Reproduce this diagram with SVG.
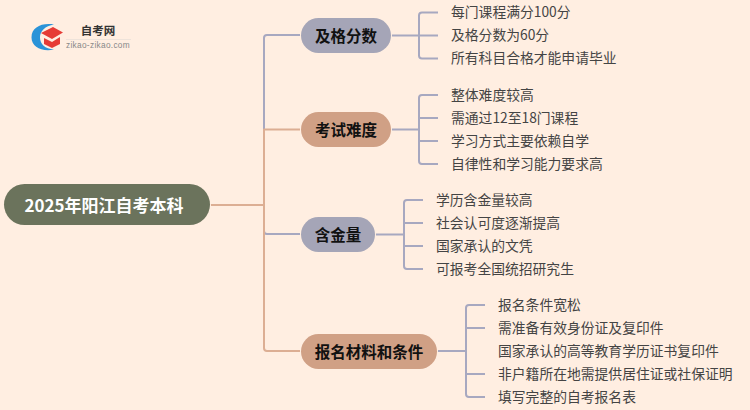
<svg xmlns="http://www.w3.org/2000/svg" width="750" height="410" viewBox="0 0 750 410">
<style>
text{font-family:"Noto Sans CJK SC","Liberation Sans",sans-serif}
.l{font-size:13.8px;fill:#444;dominant-baseline:central}
.n{font-size:15.5px;font-weight:700;fill:#111;text-anchor:middle;dominant-baseline:central}
.c{fill:none;stroke-width:2;stroke-linejoin:round}
.b{stroke:#a7a8c0}.o{stroke:#dcae93}
.bf{fill:#a5a5b7}.of{fill:#d0a085}
</style>
<rect width="750" height="410" fill="#ffeee1"/>
<g id="logo">
<path d="M54 24.500C42 22.500 31.500 27 31.500 37.500C31.500 47 42 52 54 49.500C45 49 40 44 40 37.500C40 31 45 26 54 24.500Z" fill="#2a93d8"/>
<path d="M41 33L53 27L63 32.500L52 39Z" fill="#e63b35"/>
<path d="M44 38L52 42L60 37V44L52 48L44 44Z" fill="#e63b35"/>
<text x="98" y="30" style="font-size:11.500px;font-weight:700;fill:#333;text-anchor:middle;dominant-baseline:central">自考网</text>
<path d="M66 39.500H131" stroke="#eee3da" stroke-width="1" fill="none"/>
<text x="98" y="45" style="font-size:8.300px;fill:#888;text-anchor:middle;dominant-baseline:central;font-family:'Liberation Sans',sans-serif;letter-spacing:.3px">zikao-zikao.com</text>
</g>
<g id="connectors">
<path class="c b" d="M264 129V38Q264 35 267 35H300"/>
<path class="c b" d="M264 205V231Q264 234 267 234H300"/>
<path class="c o" d="M211 205H264"/>
<path class="c o" d="M300 129.500H264V348Q264 351 267 351H300"/>
<path class="c b" d="M392 35.500H419M438 12.500H422Q419 12.500 419 15.500V55.500Q419 58.500 422 58.500H438M419 35.500H438"/>
<path class="c b" d="M392 129.500H419M438 95H422Q419 95 419 98V161Q419 164 422 164H438M419 118H438M419 141H438"/>
<path class="c b" d="M376 234.500H404M423 200H407Q404 200 404 203V266Q404 269 407 269H423M404 223H423M404 246H423"/>
<path class="c b" d="M438 351H466M485 305H469Q466 305 466 308V394Q466 397 469 397H485M466 328H485M466 374H485"/>
</g>
<g id="root"><rect x="4" y="184" width="206" height="41" rx="20.500" fill="#6b735c"/><text x="104" y="204" style="font-size:17px;font-weight:700;fill:#fff;text-anchor:middle;dominant-baseline:central">2025年阳江自考本科</text></g>
<g id="n1"><rect class="bf" x="301" y="18" width="90" height="35" rx="17.500"/><text class="n" x="346" y="34.500">及格分数</text></g>
<g id="n2"><rect class="of" x="301" y="112" width="90" height="35" rx="17.500"/><text class="n" x="346" y="128.500">考试难度</text></g>
<g id="n3"><rect class="bf" x="301" y="217" width="74" height="35" rx="17.500"/><text class="n" x="338" y="233.500">含金量</text></g>
<g id="n4"><rect class="of" x="301" y="334" width="136" height="35" rx="17.500"/><text class="n" x="369" y="350.500">报名材料和条件</text></g>
<g id="leaves1">
<text class="l" x="451" y="11">每门课程满分100分</text>
<text class="l" x="451" y="34">及格分数为60分</text>
<text class="l" x="451" y="57">所有科目合格才能申请毕业</text>
</g>
<g id="leaves2">
<text class="l" x="451" y="94">整体难度较高</text>
<text class="l" x="451" y="117">需通过12至18门课程</text>
<text class="l" x="451" y="140">学习方式主要依赖自学</text>
<text class="l" x="451" y="163">自律性和学习能力要求高</text>
</g>
<g id="leaves3">
<text class="l" x="436" y="199">学历含金量较高</text>
<text class="l" x="436" y="222">社会认可度逐渐提高</text>
<text class="l" x="436" y="245">国家承认的文凭</text>
<text class="l" x="436" y="268">可报考全国统招研究生</text>
</g>
<g id="leaves4">
<text class="l" x="498" y="304">报名条件宽松</text>
<text class="l" x="498" y="327">需准备有效身份证及复印件</text>
<text class="l" x="498" y="350">国家承认的高等教育学历证书复印件</text>
<text class="l" x="498" y="373">非户籍所在地需提供居住证或社保证明</text>
<text class="l" x="498" y="396">填写完整的自考报名表</text>
</g>
</svg>
